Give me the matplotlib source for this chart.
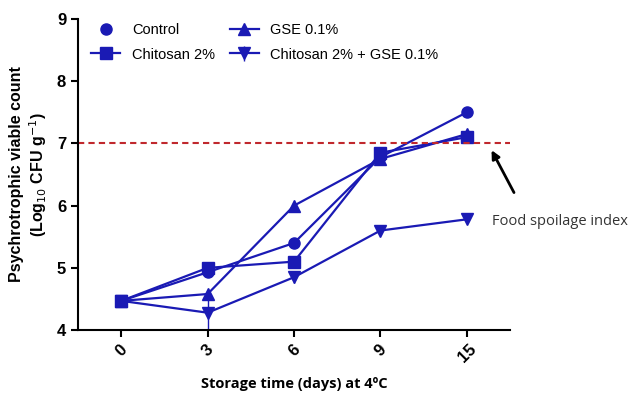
import matplotlib.pyplot as plt
import numpy as np

plt.rcParams["font.family"] = ["Liberation Sans", "DejaVu Sans"]

# storage days (categorical axis)
days = ["0", "3", "6", "9", "15"]
control = [4.47, 4.93, 5.40, 6.78, 7.50]
chitosan = [4.47, 5.00, 5.10, 6.85, 7.10]
gse = [4.47, 4.58, 6.00, 6.75, 7.15]
chit_gse = [4.47, 4.28, 4.85, 5.60, 5.78]
chit_gse_err = [0.0, 0.28, 0.10, 0.0, 0.0]
spoilage = 7.0

blue = "#1a1ab4"
x = np.arange(len(days))

fig = plt.figure(figsize=(6.29, 3.93), dpi=100)
ax = fig.add_axes([0.124, 0.160, 0.687, 0.792])

ax.plot(x, control, color=blue, lw=1.6, marker="o", ms=8, label="Control")
ax.plot(x, chitosan, color=blue, lw=1.6, marker="s", ms=8, label="Chitosan 2%")
ax.plot(x, gse, color=blue, lw=1.6, marker="^", ms=8, label="GSE 0.1%")
ax.errorbar(x, chit_gse, yerr=chit_gse_err, color=blue, lw=1.6, marker="v", ms=8,
            elinewidth=1, capsize=0, label="Chitosan 2% + GSE 0.1%")

ax.axhline(spoilage, color="#c0282d", ls=(0, (3, 2)), lw=1.5)

ax.set_xlim(-0.5, 4.5)
ax.set_ylim(4, 9)
ax.set_xticks(x)
ax.set_xticklabels(days, rotation=45, fontsize=12, fontweight="bold")
ax.set_yticks([4, 5, 6, 7, 8, 9])
ax.tick_params(axis="y", labelsize=12, width=1.5, length=5)
ax.tick_params(axis="x", width=1.5, length=5)
for lab in ax.get_yticklabels():
    lab.set_fontweight("bold")
for s in ["top", "right"]:
    ax.spines[s].set_visible(False)
for s in ["left", "bottom"]:
    ax.spines[s].set_linewidth(1.5)

ax.set_ylabel("Psychrotrophic viable count\n(Log$_{10}$ CFU g$^{-1}$)", fontsize=11.5,
              fontweight="bold", labelpad=6)
ax.set_xlabel("Storage time (days) at 4ºC", fontsize=10.5, fontweight="bold",
              family="Open Sans", labelpad=8)

h, l = ax.get_legend_handles_labels()
leg = ax.legend(h, l, ncol=2, frameon=False,
                loc="upper left", bbox_to_anchor=(0.0, 1.03), fontsize=10.5,
                handlelength=2.0, columnspacing=1.0, labelspacing=0.75)
leg.legend_handles[0].set_linestyle("none")

ax.annotate("", xy=(4.27, 6.93), xytext=(4.56, 6.17),
            arrowprops=dict(arrowstyle="-|>", color="black", lw=2, mutation_scale=12),
            annotation_clip=False)
ax.text(4.29, 5.74, "Food spoilage index", fontsize=10.5, family="Open Sans",
        va="center", ha="left", color="#333333")

fig.savefig("out.png", dpi=100)
